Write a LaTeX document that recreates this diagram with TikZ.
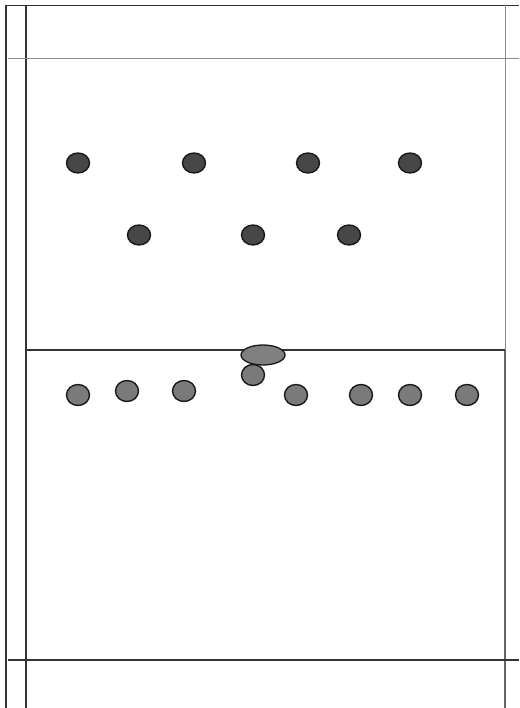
\documentclass[tikz,border=0pt]{standalone}
\begin{document}
\begin{tikzpicture}[x=1pt,y=-1pt,
  darkline/.style={draw=black!80,line width=1.2pt},
  grayline/.style={draw=black!45,line width=1pt},
  opp/.style={fill=black!72,draw=black!90,line width=1.4pt},
  own/.style={fill=black!52,draw=black!90,line width=1.4pt},
  ballst/.style={fill=black!50,draw=black!90,line width=1.3pt}]
\useasboundingbox (0,0) rectangle (519,708);
% court lines
\draw[darkline] (5,5.5) -- (519,5.5);
\draw[darkline] (6,5) -- (6,708);
\draw[darkline] (26,5) -- (26,708);
\draw[grayline] (8,59) -- (519,59);
\draw[grayline] (505,5) -- (505,350);
\draw[darkline,draw=black!60] (505,350) -- (505,708);
\draw[darkline] (26,350) -- (505,350);
\draw[darkline] (8,660) -- (519,660);
% opponents
\foreach \p in {(78,163),(194,163),(308,163),(410,163),(139,235),(253,235),(349,235)}
  \path[opp] \p ellipse [x radius=11.5,y radius=10];
% own team
\foreach \p in {(78,395),(127,391),(184,391),(253,375),(296,395),(361,395),(410,395),(467,395)}
  \path[own] \p ellipse [x radius=11.5,y radius=10.5];
% ball
\path[ballst] (263,355) ellipse [x radius=22,y radius=10];
\end{tikzpicture}
\end{document}
